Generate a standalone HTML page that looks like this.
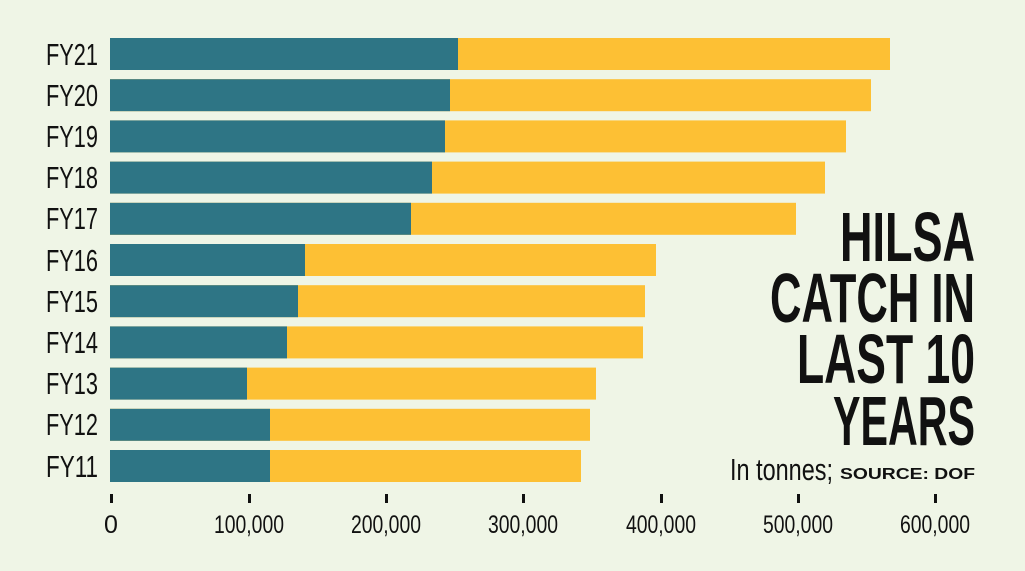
<!DOCTYPE html>
<html><head><meta charset="utf-8"><style>
html,body{margin:0;padding:0;background:#eff5e6;}
svg{display:block}
text{font-family:"Liberation Sans Narrow","Liberation Sans",sans-serif;fill:#111}
</style></head><body>
<svg width="1025" height="571" viewBox="0 0 1025 571">
<rect width="1025" height="571" fill="#eff5e6"/>
<g id="bars"></g>
<g font-size="31">
<text x="98" y="65" text-anchor="end" textLength="52" lengthAdjust="spacingAndGlyphs">FY21</text>
<text x="98" y="106" text-anchor="end" textLength="52" lengthAdjust="spacingAndGlyphs">FY20</text>
<text x="98" y="147" text-anchor="end" textLength="52" lengthAdjust="spacingAndGlyphs">FY19</text>
<text x="98" y="188" text-anchor="end" textLength="52" lengthAdjust="spacingAndGlyphs">FY18</text>
<text x="98" y="229" text-anchor="end" textLength="52" lengthAdjust="spacingAndGlyphs">FY17</text>
<text x="98" y="271" text-anchor="end" textLength="52" lengthAdjust="spacingAndGlyphs">FY16</text>
<text x="98" y="312" text-anchor="end" textLength="52" lengthAdjust="spacingAndGlyphs">FY15</text>
<text x="98" y="353" text-anchor="end" textLength="52" lengthAdjust="spacingAndGlyphs">FY14</text>
<text x="98" y="394" text-anchor="end" textLength="52" lengthAdjust="spacingAndGlyphs">FY13</text>
<text x="98" y="435" text-anchor="end" textLength="52" lengthAdjust="spacingAndGlyphs">FY12</text>
<text x="98" y="477" text-anchor="end" textLength="52" lengthAdjust="spacingAndGlyphs">FY11</text>
</g>
<g fill="#111">
<rect x="110" y="494" width="3" height="9"/><rect x="248" y="494" width="3" height="9"/><rect x="385" y="494" width="3" height="9"/><rect x="522" y="494" width="3" height="9"/><rect x="660" y="494" width="3" height="9"/><rect x="797" y="494" width="3" height="9"/><rect x="934" y="494" width="3" height="9"/>
</g>
<g font-size="25" text-anchor="middle">
<text x="111" y="533">0</text>
<text x="249" y="533" textLength="70" lengthAdjust="spacingAndGlyphs">100,000</text>
<text x="386" y="533" textLength="70" lengthAdjust="spacingAndGlyphs">200,000</text>
<text x="523" y="533" textLength="70" lengthAdjust="spacingAndGlyphs">300,000</text>
<text x="661" y="533" textLength="70" lengthAdjust="spacingAndGlyphs">400,000</text>
<text x="798" y="533" textLength="70" lengthAdjust="spacingAndGlyphs">500,000</text>
<text x="935" y="533" textLength="70" lengthAdjust="spacingAndGlyphs">600,000</text>
</g>
<g font-size="70" font-weight="bold" text-anchor="end">
<text x="975" y="261" textLength="135" lengthAdjust="spacingAndGlyphs">HILSA</text>
<text x="975" y="322" textLength="205" lengthAdjust="spacingAndGlyphs">CATCH IN</text>
<text x="975" y="383" textLength="178" lengthAdjust="spacingAndGlyphs">LAST 10</text>
<text x="975" y="445" textLength="142" lengthAdjust="spacingAndGlyphs">YEARS</text>
</g>
<text x="730" y="480" font-size="31" textLength="103" lengthAdjust="spacingAndGlyphs">In tonnes;</text>
<text x="840" y="479" font-size="16" font-weight="bold" style="font-family:'Liberation Sans',sans-serif" textLength="135" lengthAdjust="spacingAndGlyphs">SOURCE: DOF</text>
</svg>
<script>
var d=[[458,890],[450,871],[445,846],[432,825],[411,796],[305,656],[298,645],[287,643],[247,596],[270,590],[270,581]];
var g=document.getElementById('bars'),s='';
d.forEach(function(v,i){var y=38+i*41.2;
s+='<rect x="110" y="'+y+'" width="'+(v[1]-110)+'" height="32" fill="#fdc034"/>';
s+='<rect x="110" y="'+y+'" width="'+(v[0]-110)+'" height="32" fill="#2e7585"/>';});
g.innerHTML=s;
</script>
</body></html>
